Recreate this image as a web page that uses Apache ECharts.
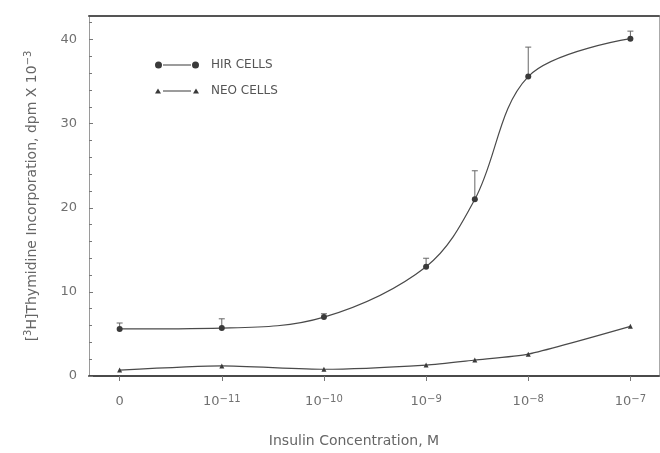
<!DOCTYPE html>
<html>
<head>
<meta charset="utf-8">
<script src="https://cdn.jsdelivr.net/npm/echarts@6/dist/echarts.min.js"></script>
<style>
  html, body { margin: 0; padding: 0; background: #fff; }
  #main { width: 660px; height: 453px; }
</style>
</head>
<body>
<div id="main"></div>
<script>
// x position on the chart: 0 = no insulin, n = 10^(-12+n) M
const xPos = [0, 1, 2, 3, Math.log10(3) + 3, 4, 5];
const xTickVals = [0, 1, 2, 3, 4, 5];
const xTickBase = ['0', '10', '10', '10', '10', '10'];
const xTickExp = ['', '−11', '−10', '−9', '−8', '−7'];
const yMajor = [0, 10, 20, 30, 40];
const yMinor = [2, 4, 6, 8, 12, 14, 16, 18, 22, 24, 26, 28, 32, 34, 36, 38, 42];

// dpm x 10^-3
const hirVals = [5.6, 5.7, 7.0, 13.0, 21.0, 35.6, 40.1];
const hirErrTop = [6.3, 6.8, 7.4, 14.0, 24.4, 39.1, 41.0];
const neoVals = [0.7, 1.2, 0.8, 1.3, 1.9, 2.6, 5.9];

const ink = '#4a4a4a';
const txt = '#707070';
const font = 'DejaVu Sans';

const pairs = (vals) => xPos.map((x, i) => [x, vals[i]]);

const chart = echarts.init(document.getElementById('main'));

chart.setOption({
  backgroundColor: '#fff',
  animation: false,
  grid: { left: 89, right: 1, top: 16, bottom: 77 },
  legend: {
    orient: 'vertical',
    left: 150,
    top: 54,
    itemGap: 14,
    itemWidth: 44,
    itemHeight: 7,
    textStyle: { fontFamily: font, fontSize: 12, color: '#555', padding: [0, 0, 0, 7] },
    data: [
      { name: 'HIR CELLS', icon: 'path://M0,3.5a3.5,3.5 0 1,0 7,0a3.5,3.5 0 1,0 -7,0zM8,3h28v1h-28zM37,3.5a3.5,3.5 0 1,0 7,0a3.5,3.5 0 1,0 -7,0z' },
      { name: 'NEO CELLS', icon: 'path://M0,7L3,2L6,7zM8,4h28v1h-28zM38,7L41,2L44,7z' }
    ]
  },
  xAxis: [
    {
      type: 'value',
      min: -0.3,
      max: 5.28,
      name: 'Insulin Concentration, M',
      nameLocation: 'middle',
      nameGap: 58,
      nameTextStyle: { fontFamily: font, fontSize: 14, color: '#666', padding: [0, 40, 0, 0] },
      splitLine: { show: false },
      axisLine: { onZero: false, lineStyle: { color: ink, width: 2 } },
      axisTick: { customValues: xTickVals, length: 5, lineStyle: { color: '#777' } },
      axisLabel: {
        customValues: xTickVals,
        margin: 18,
        fontFamily: font,
        fontSize: 13,
        color: txt,
        rich: {
          b: { fontFamily: font, fontSize: 13, color: txt, lineHeight: 14, padding: [7, 0, 0, 0], verticalAlign: 'bottom' },
          s: { fontFamily: font, fontSize: 10, color: txt, lineHeight: 10, verticalAlign: 'top' }
        },
        formatter: (v) => {
          const i = xTickVals.indexOf(Math.round(v));
          if (i < 0) return '';
          return '{b|' + xTickBase[i] + '}' + (xTickExp[i] ? '{s|' + xTickExp[i] + '}' : '');
        }
      }
    },
    {
      type: 'value',
      position: 'top',
      min: -0.3,
      max: 5.28,
      axisLine: { show: true, onZero: false, lineStyle: { color: '#555', width: 2 } },
      axisTick: { show: false },
      axisLabel: { show: false },
      splitLine: { show: false }
    }
  ],
  yAxis: [
    {
      type: 'value',
      min: 0,
      max: 42.8,
      name: '{t|[}{s|3}{t|H]Thymidine Incorporation, dpm X 10}{s|−3}',
      nameLocation: 'middle',
      nameGap: 50,
      nameTextStyle: {
        fontFamily: font,
        fontSize: 14,
        color: '#666',
        rich: {
          t: { fontFamily: font, fontSize: 14, color: '#666', lineHeight: 16, padding: [7, 0, 0, 0], verticalAlign: 'bottom' },
          s: { fontFamily: font, fontSize: 10, color: '#666', lineHeight: 11, verticalAlign: 'top' }
        }
      },
      splitLine: { show: false },
      axisLine: { show: true, onZero: false, lineStyle: { color: '#9a9a9a', width: 1 } },
      axisTick: { customValues: yMajor, inside: true, length: 4, lineStyle: { color: '#777' } },
      axisLabel: { customValues: yMajor, margin: 12, fontFamily: font, fontSize: 13, color: txt }
    },
    {
      type: 'value',
      min: 0,
      max: 42.8,
      position: 'left',
      splitLine: { show: false },
      axisLine: { show: false, onZero: false },
      axisTick: { show: true, customValues: yMinor, inside: true, length: 3, lineStyle: { color: '#777', width: 1 } },
      axisLabel: { show: false }
    },
    {
      type: 'value',
      min: 0,
      max: 42.8,
      position: 'right',
      splitLine: { show: false },
      axisLine: { show: true, onZero: false, lineStyle: { color: '#aaa', width: 1 } },
      axisTick: { show: false },
      axisLabel: { show: false }
    }
  ],
  series: [
    {
      name: 'HIR CELLS',
      type: 'line',
      data: pairs(hirVals),
      smooth: 0.35,
      symbol: 'circle',
      symbolSize: 6,
      itemStyle: { color: '#3a3a3a' },
      lineStyle: { color: ink, width: 1.2 },
      z: 3
    },
    {
      name: 'NEO CELLS',
      type: 'line',
      data: pairs(neoVals),
      smooth: 0.2,
      symbol: 'triangle',
      symbolSize: 5,
      itemStyle: { color: '#3a3a3a' },
      lineStyle: { color: ink, width: 1.2 },
      z: 3
    },
    {
      name: 'HIR error',
      type: 'custom',
      data: xPos.map((x, i) => [x, hirVals[i], hirErrTop[i]]),
      renderItem: (params, api) => {
        const base = api.coord([api.value(0), api.value(1)]);
        const top = api.coord([api.value(0), api.value(2)]);
        const style = { stroke: '#666', lineWidth: 1 };
        return {
          type: 'group',
          children: [
            { type: 'line', shape: { x1: base[0], y1: base[1], x2: top[0], y2: top[1] }, style },
            { type: 'line', shape: { x1: top[0] - 3, y1: top[1], x2: top[0] + 3, y2: top[1] }, style }
          ]
        };
      },
      z: 2
    }
  ]
});
</script>
</body>
</html>
